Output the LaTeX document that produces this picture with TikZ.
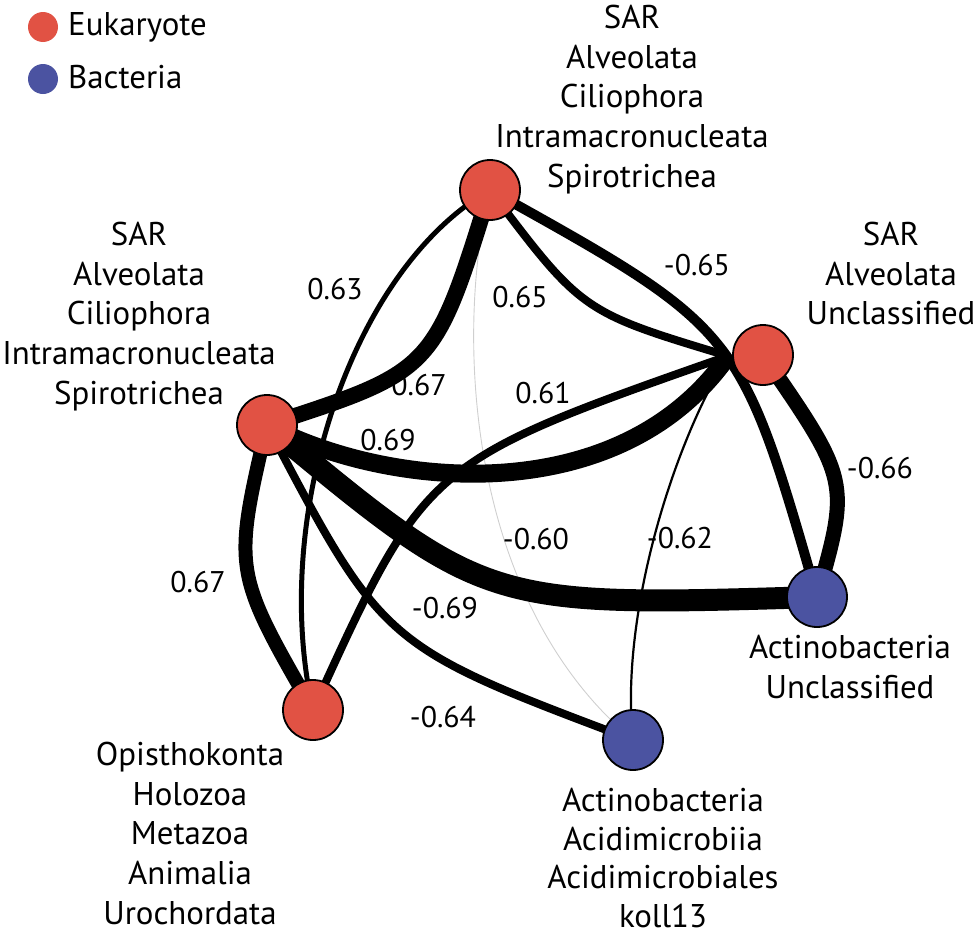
\documentclass[tikz,border=0pt]{standalone}
\usepackage{fontspec}
\setmainfont{PT Sans}
\pgfdeclarelayer{bg}
\pgfsetlayers{bg,main}
\definecolor{euk}{HTML}{E15244}
\definecolor{bac}{HTML}{4B53A1}
\definecolor{faint}{HTML}{CFCFCF}
\begin{document}
\begin{tikzpicture}[x=1bp,y=-1bp,
  vert/.style={circle, draw=black, line width=1.8bp, minimum size=60bp, inner sep=0pt},
  eu/.style={vert, fill=euk},
  ba/.style={vert, fill=bac},
  lab/.style={font=\fontsize{33}{40}\selectfont, align=center, anchor=north, inner sep=0pt},
  elab/.style={font=\fontsize{30}{40}\selectfont, anchor=base, inner sep=0pt},
  lgt/.style={font=\fontsize{33}{40}\selectfont, anchor=base west, inner sep=0pt},
  lg/.style={circle, minimum size=30bp, inner sep=0pt},
  link/.style={draw=black, line cap=butt}
]
\useasboundingbox (0,0) rectangle (976,938);

% legend
\node[lg, fill=euk] (leu) at (43,27) {};
\node[lgt] (teu) at (68,35) {Eukaryote};
\node[lg, fill=bac] (lba) at (43,79) {};
\node[lgt] (tba) at (68,88) {Bacteria};

% vertices
\node[eu] (A) at (490,190) {};
\node[eu] (B) at (267,425) {};
\node[eu] (C) at (763,355) {};
\node[ba] (D) at (817,597) {};
\node[eu] (E) at (313,710) {};
\node[ba] (F) at (633,740) {};
\coordinate (Cx) at (728,356);

% vertex labels
\node[lab] (lA) at (632,3) {\rule{0pt}{25bp}SAR\\Alveolata\\Ciliophora\\Intramacronucleata\\Spirotrichea};
\node[lab] (lB) at (139,220) {\rule{0pt}{25bp}SAR\\Alveolata\\Ciliophora\\Intramacronucleata\\Spirotrichea};
\node[lab] (lC) at (891,220) {\rule{0pt}{25bp}SAR\\Alveolata\\Unclassified};
\node[lab] (lD) at (850,633) {\rule{0pt}{25bp}Actinobacteria\\Unclassified};
\node[lab] (lE) at (190,740) {\rule{0pt}{25bp}Opisthokonta\\Holozoa\\Metazoa\\Animalia\\Urochordata};
\node[lab, font=\fontsize{33}{39}\selectfont] (lF) at (663,786) {\rule{0pt}{25bp}Actinobacteria\\Acidimicrobiia\\Acidimicrobiales\\koll13};

% edges
\begin{pgfonlayer}{bg}
\draw[link, draw=faint, line width=0.9bp] (A.center) .. controls (455,330) and (465,600) .. (F.center);
\draw[link, line width=2.2bp] (Cx) .. controls (670,450) and (620,620) .. (F.center);
\draw[link, line width=5bp] (A.center) .. controls (350,270) and (270,520) .. (E.center);
\draw[link, line width=16bp] (A.center) .. controls (434,371) .. (B.center);
\draw[link, line width=8bp] (A.center) .. controls (582,312) .. (Cx);
\draw[link, line width=10bp] (A.center) .. controls (740,329) .. (D.center);
\draw[link, line width=8bp] (E.center) .. controls (426,462) .. (Cx);
\draw[link, line width=18bp] (B.center) .. controls (390,490) and (620,510) .. (Cx);
\draw[link, line width=22bp] (B.center) .. controls (486,607) .. (D.center);
\draw[link, line width=8bp] (B.center) .. controls (383,646) .. (F.center);
\draw[link, line width=14bp] (B.center) .. controls (233,571) .. (E.center);
\draw[link, line width=15bp] (C.center) .. controls (850,481) .. (D.center);
\end{pgfonlayer}

% edge labels
\node[elab] (w1) at (335,299) {0.63};
\node[elab] (w2) at (520,307) {0.65};
\node[elab] (w3) at (697,275) {-0.65};
\node[elab] (w4) at (419,395) {0.67};
\node[elab] (w5) at (543,403) {0.61};
\node[elab] (w6) at (388,450) {0.69};
\node[elab] (w7) at (880,478) {-0.66};
\node[elab] (w8) at (536,549) {-0.60};
\node[elab] (w9) at (680,548) {-0.62};
\node[elab] (w10) at (198,592) {0.67};
\node[elab] (w11) at (445,618) {-0.69};
\node[elab] (w12) at (443,727) {-0.64};
\end{tikzpicture}
\end{document}
